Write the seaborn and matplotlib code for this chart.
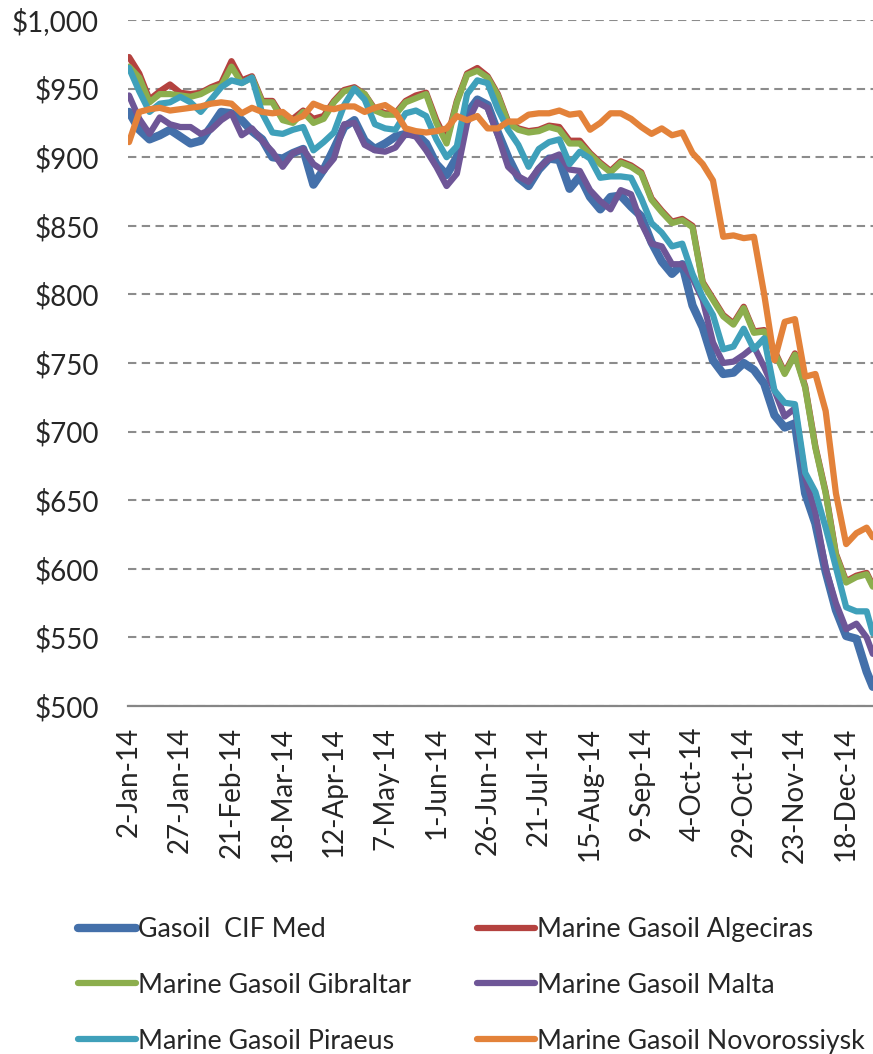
import matplotlib
matplotlib.use("Agg")
import matplotlib.pyplot as plt
import seaborn as sns
import pandas as pd

# ---------------- data ----------------
start_date = "2014-01-02"
day_offsets = list(range(0, 361, 5)) + [363]

gasoil_cif_med = [
    933, 920, 913, 916, 920, 915, 910, 912, 922, 933, 932, 927, 919, 913, 900,
    899, 903, 906, 880, 891, 906, 922, 927, 912, 906, 910, 915, 917, 917, 910,
    895, 887, 900, 932, 942, 938, 918, 900, 885, 879, 891, 899, 898, 877,
    886, 871, 862, 871, 872, 864, 857, 838, 824, 815, 822, 792, 776, 752,
    742, 743, 750, 745, 735, 712, 703, 706, 655, 633, 598, 570, 551, 549, 525, 514]

algeciras = [
    973, 961, 942, 948, 953, 947, 946, 947, 951, 954, 970, 956, 959, 941, 941,
    929, 928, 934, 928, 930, 941, 949, 951, 946, 935, 932, 932, 941, 945, 947,
    927, 912, 941, 961, 965, 959, 946, 926, 921, 919, 920, 923, 922, 912,
    912, 903, 896, 890, 897, 894, 889, 870, 861, 853, 855, 850, 809, 797,
    785, 779, 791, 773, 774, 759, 743, 757, 733, 689, 656, 611, 591, 595, 597, 588]

gibraltar = [
    966, 958, 940, 946, 946, 945, 944, 946, 950, 952, 966, 954, 958, 940, 940,
    927, 925, 933, 925, 928, 940, 948, 950, 946, 934, 931, 931, 940, 943, 946,
    925, 910, 940, 960, 963, 958, 945, 925, 920, 918, 919, 922, 920, 910,
    910, 902, 895, 889, 896, 893, 888, 869, 860, 852, 854, 849, 808, 796,
    784, 778, 790, 772, 773, 758, 742, 756, 732, 688, 655, 610, 590, 594, 596, 587]

malta = [
    945, 928, 917, 929, 924, 922, 922, 917, 920, 927, 932, 916, 921, 912, 904,
    893, 903, 906, 895, 890, 899, 924, 925, 909, 905, 904, 907, 917, 915, 905,
    893, 879, 888, 925, 940, 936, 916, 893, 886, 882, 892, 899, 902, 891,
    890, 876, 868, 862, 876, 873, 852, 837, 835, 822, 822, 812, 796, 765,
    750, 751, 756, 762, 747, 730, 711, 717, 667, 641, 600, 575, 556, 560, 550, 538]

piraeus = [
    965, 948, 933, 939, 940, 944, 940, 933, 942, 951, 956, 954, 958, 932, 918,
    917, 920, 922, 905, 911, 918, 938, 950, 942, 924, 921, 920, 932, 934, 930,
    913, 900, 908, 946, 956, 954, 935, 920, 909, 893, 906, 911, 913, 895,
    904, 899, 885, 886, 886, 885, 870, 852, 845, 835, 837, 815, 798, 785,
    760, 762, 775, 760, 768, 730, 721, 720, 670, 656, 630, 601, 572, 569, 569, 553]

novorossiysk = [
    911, 933, 935, 936, 934, 935, 936, 937, 939, 940, 939, 932, 936, 933, 932,
    933, 927, 930, 939, 936, 935, 937, 937, 933, 936, 938, 933, 921, 919, 918,
    919, 921, 930, 927, 930, 921, 921, 926, 926, 931, 932, 932, 934, 931,
    932, 920, 925, 932, 932, 928, 922, 917, 921, 916, 918, 903, 895, 883,
    842, 843, 841, 842, 800, 752, 780, 782, 740, 742, 715, 655, 618, 626, 630, 623]

series_names = ["Gasoil  CIF Med", "Marine Gasoil Algeciras", "Marine Gasoil Gibraltar",
                "Marine Gasoil Malta", "Marine Gasoil Piraeus", "Marine Gasoil Novorossiysk"]
series_values = [gasoil_cif_med, algeciras, gibraltar, malta, piraeus, novorossiysk]
series_colors = ["#4470AA", "#B4423F", "#8CAE4D", "#6E5697", "#3FA0BA", "#E3823A"]
series_widths = [6.0, 4.5, 4.5, 4.5, 4.5, 4.5]

xtick_labels = ["2-Jan-14", "27-Jan-14", "21-Feb-14", "18-Mar-14", "12-Apr-14", "7-May-14",
                "1-Jun-14", "26-Jun-14", "21-Jul-14", "15-Aug-14", "9-Sep-14", "4-Oct-14",
                "29-Oct-14", "23-Nov-14", "18-Dec-14"]
ytick_values = [500, 550, 600, 650, 700, 750, 800, 850, 900, 950, 1000]
ytick_labels = ["$500", "$550", "$600", "$650", "$700", "$750", "$800", "$850",
                "$900", "$950", "$1,000"]

# ---------------- plot ----------------
sns.set_style("white")
plt.rcParams["font.family"] = ["Lato", "DejaVu Sans"]

start = pd.Timestamp(start_date)
dates = start + pd.to_timedelta(day_offsets, unit="D")

fig = plt.figure(figsize=(8.73, 10.54), dpi=100)
ax = fig.add_axes([128 / 873, 1 - 706 / 1054, 745 / 873, 686 / 1054])

lines = {}
for name, vals, col, lw in zip(series_names, series_values, series_colors, series_widths):
    sns.lineplot(x=dates, y=vals, ax=ax, color=col, linewidth=lw, label=name, legend=False)
    ln = ax.get_lines()[-1]
    ln.set_solid_joinstyle("round")
    ln.set_solid_capstyle("round")
    lines[name] = ln

ax.set_xlim(start - pd.Timedelta(hours=12), start + pd.Timedelta(days=363.1))
ax.set_ylim(500, 1000)
ax.set_yticks(ytick_values)
ax.set_yticklabels(ytick_labels, fontsize=20)
tick_dates = [start + pd.Timedelta(days=25 * i) for i in range(len(xtick_labels))]
ax.set_xticks(tick_dates)
ax.set_xticklabels(xtick_labels, rotation=90, fontsize=20, va="top", ha="center")
ax.tick_params(axis="x", length=0, pad=15)
ax.tick_params(axis="y", length=0, pad=21)
ax.set_xlabel("")
ax.set_ylabel("")

ax.set_axisbelow(True)
ax.yaxis.grid(True, linestyle=(0, (4, 2.6)), color="#8c8c8c", linewidth=1.5)
ax.xaxis.grid(False)
for s in ["left", "right", "top"]:
    ax.spines[s].set_visible(False)
ax.spines["bottom"].set_color("#868686")
ax.spines["bottom"].set_linewidth(1.6)
ax.spines["bottom"].set_zorder(3)

order = ["Gasoil  CIF Med", "Marine Gasoil Gibraltar", "Marine Gasoil Piraeus",
         "Marine Gasoil Algeciras", "Marine Gasoil Malta", "Marine Gasoil Novorossiysk"]
fig.legend([lines[n] for n in order], order, loc="upper left",
           bbox_to_anchor=(78 / 873, 1 - 917 / 1054), ncol=2, frameon=False,
           fontsize=19.3, handlelength=2.15, handletextpad=0.1, columnspacing=2.45,
           labelspacing=1.15, borderpad=0, borderaxespad=0)

fig.savefig("out.png", dpi=100)
